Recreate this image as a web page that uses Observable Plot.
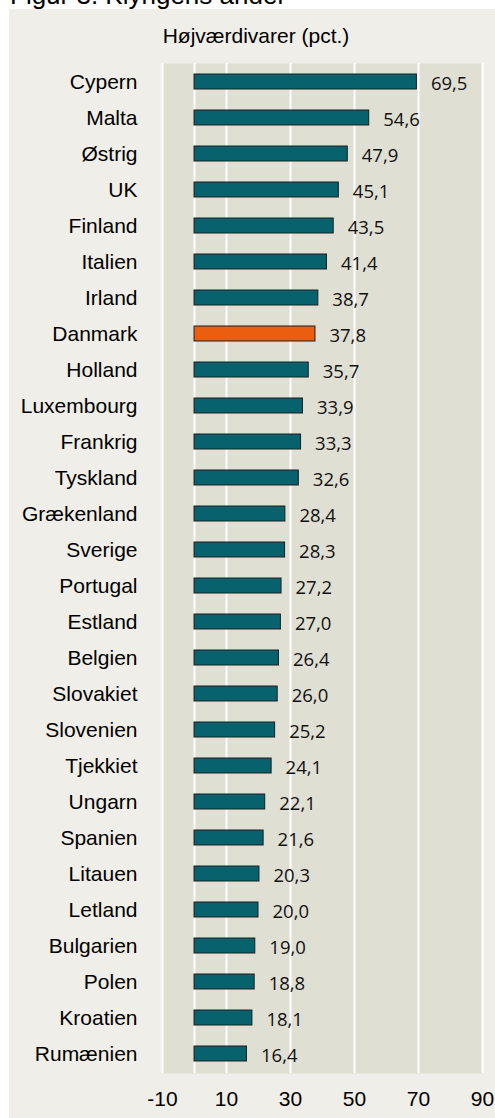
<!DOCTYPE html>
<html>
<head>
<meta charset="utf-8">
<script src="https://cdn.jsdelivr.net/npm/d3@7"></script>
<script src="https://cdn.jsdelivr.net/npm/@observablehq/plot@0.6"></script>
<style>
  body { margin: 0; background: #ffffff; }
  #wrap { position: relative; width: 495px; height: 1118px; overflow: hidden; font-family: "Liberation Sans", Arial, sans-serif; color: #000; }
  #title { position: absolute; left: 10px; top: -20px; font-size: 26px; line-height: 30px; white-space: nowrap; }
  #panel { position: absolute; left: 9px; top: 9px; width: 486px; height: 1109px; background: #efeee8; }
  #subtitle { position: absolute; left: 156px; top: 23.5px; width: 200px; text-align: center; font-size: 21px; line-height: 24px; white-space: nowrap; }
  #chart { position: absolute; left: 9px; top: 50px; }
</style>
</head>
<body>
<div id="wrap">
  <div id="title">Figur 3. Klyngens andel</div>
  <div id="panel"></div>
  <div id="subtitle">Højværdivarer (pct.)</div>
  <div id="chart"></div>
</div>
<script>
const countries = ["Cypern","Malta","Østrig","UK","Finland","Italien","Irland","Danmark","Holland","Luxembourg","Frankrig","Tyskland","Grækenland","Sverige","Portugal","Estland","Belgien","Slovakiet","Slovenien","Tjekkiet","Ungarn","Spanien","Litauen","Letland","Bulgarien","Polen","Kroatien","Rumænien"];
const values = [69.5,54.6,47.9,45.1,43.5,41.4,38.7,37.8,35.7,33.9,33.3,32.6,28.4,28.3,27.2,27.0,26.4,26.0,25.2,24.1,22.1,21.6,20.3,20.0,19.0,18.8,18.1,16.4];
const highlight = "Danmark";
const xTicks = [-10, 10, 30, 50, 70, 90];
const gridLines = [-10, 0, 10, 30, 50, 70, 90];

const data = countries.map((c, i) => ({country: c, value: values[i]}));
const fmt = v => v.toFixed(1).replace(".", ",");

const chart = Plot.plot({
  width: 486,
  height: 1068,
  marginLeft: 153,
  marginRight: 13,
  marginTop: 13,
  marginBottom: 45,
  style: {background: "transparent", fontFamily: "'Liberation Sans', Arial, sans-serif", fontSize: "21px", color: "#000"},
  x: {domain: [-10, 90], ticks: xTicks, tickSize: 0, tickPadding: 18, label: null, tickFormat: d => String(d)},
  y: {domain: countries, paddingInner: 0.58, paddingOuter: 0.29, tickSize: 0, tickPadding: 25, label: null},
  color: {type: "identity"},
  marks: [
    Plot.frame({fill: "#e0dfd4", stroke: null}),
    Plot.ruleX(gridLines, {stroke: "#ffffff", strokeWidth: 2}),
    Plot.barX(data, {
      y: "country", x1: 0, x2: "value",
      fill: d => d.country === highlight ? "#e95e0f" : "#07626e",
      stroke: "#1e1e1e", strokeWidth: 1
    }),
    Plot.text(data, {
      y: "country", x: "value", text: d => fmt(d.value),
      dx: 14, dy: 2, textAnchor: "start",
      fontFamily: "'Open Sans', sans-serif", fontSize: 18.5, fontWeight: 400, fill: "#111"
    })
  ]
});
document.getElementById("chart").appendChild(chart);
</script>
</body>
</html>
